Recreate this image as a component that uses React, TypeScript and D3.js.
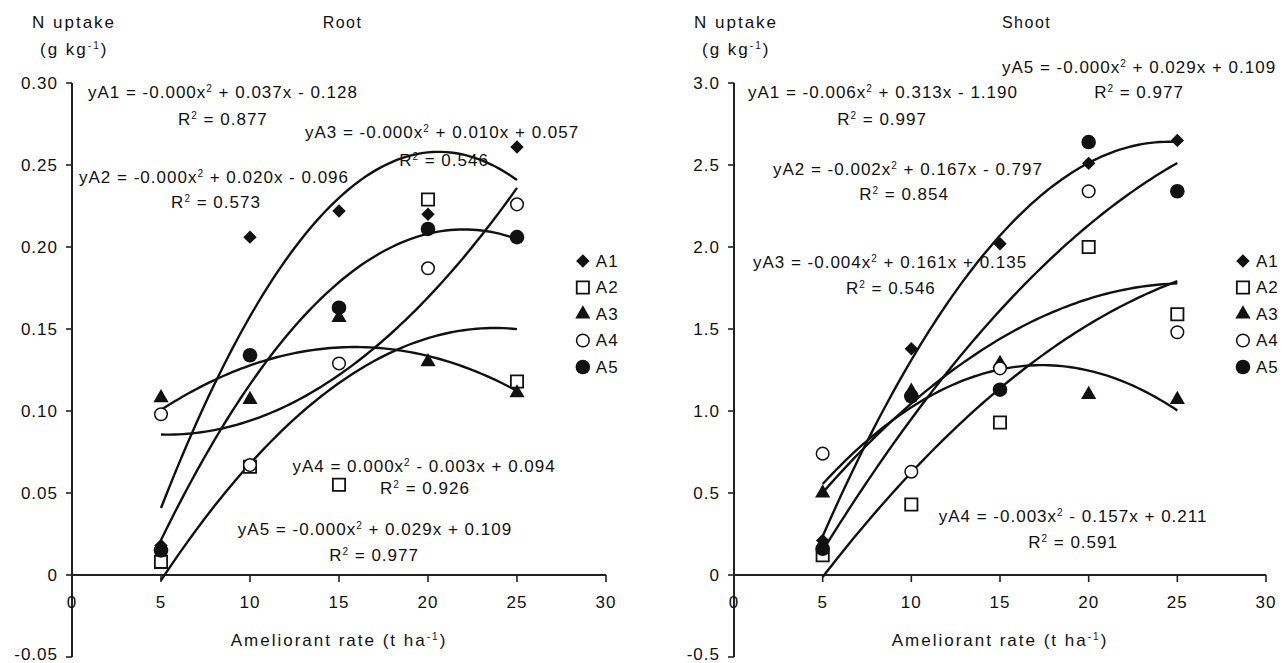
import React, { useEffect, useRef } from 'react';
import * as d3 from 'd3';

// ameliorant rates (t/ha)
const rates = [5, 10, 15, 20, 25];
const seriesNames = ['A1', 'A2', 'A3', 'A4', 'A5'];

// Root N uptake (g/kg)
const rootA1 = [0.018, 0.206, 0.222, 0.220, 0.261];
const rootA2 = [0.008, 0.066, 0.055, 0.229, 0.118];
const rootA3 = [0.108, 0.107, 0.157, 0.130, 0.111];
const rootA4 = [0.098, 0.067, 0.129, 0.187, 0.226];
const rootA5 = [0.015, 0.134, 0.163, 0.211, 0.206];

// Shoot N uptake (g/kg)
const shootA1 = [0.21, 1.38, 2.02, 2.51, 2.65];
const shootA2 = [0.12, 0.43, 0.93, 2.00, 1.59];
const shootA3 = [0.50, 1.12, 1.29, 1.10, 1.07];
const shootA4 = [0.74, 0.63, 1.26, 2.34, 1.48];
const shootA5 = [0.16, 1.09, 1.13, 2.64, 2.34];

const xTicks = [0, 5, 10, 15, 20, 25, 30];
const rootTicks = [0.30, 0.25, 0.20, 0.15, 0.10, 0.05, 0, -0.05];
const rootTickLabels = ['0.30', '0.25', '0.20', '0.15', '0.10', '0.05', '0', '-0.05'];
const shootTicks = [3.0, 2.5, 2.0, 1.5, 1.0, 0.5, 0, -0.5];
const shootTickLabels = ['3.0', '2.5', '2.0', '1.5', '1.0', '0.5', '0', '-0.5'];

const rootEquations = [
  'yA1 = -0.000x² + 0.037x - 0.128',
  'yA2 = -0.000x² + 0.020x - 0.096',
  'yA3 = -0.000x² + 0.010x + 0.057',
  'yA4 = 0.000x² - 0.003x + 0.094',
  'yA5 = -0.000x² + 0.029x + 0.109',
];
const rootR2 = ['R² = 0.877', 'R² = 0.573', 'R² = 0.546', 'R² = 0.926', 'R² = 0.977'];

const shootEquations = [
  'yA1 = -0.006x² + 0.313x - 1.190',
  'yA2 = -0.002x² + 0.167x - 0.797',
  'yA3 = -0.004x² + 0.161x + 0.135',
  'yA4 = -0.003x² - 0.157x + 0.211',
  'yA5 = -0.000x² + 0.029x + 0.109',
];
const shootR2 = ['R² = 0.997', 'R² = 0.854', 'R² = 0.546', 'R² = 0.591', 'R² = 0.977'];

// where the equation labels sit, in (rate, value) units
const rootEqAt = [[8.48, 0.2909], [7.98, 0.239], [20.79, 0.2665], [19.78, 0.0628], [17.02, 0.0244]];
const rootR2At = [[8.48, 0.2744], [8.09, 0.2238], [20.9, 0.2494], [19.83, 0.0494], [16.97, 0.0085]];
const shootEqAt = [[8.4, 2.909], [9.81, 2.439], [8.8, 1.872], [19.12, 0.323], [22.84, 3.061]];
const shootR2At = [[8.35, 2.744], [9.59, 2.287], [8.85, 1.713], [19.12, 0.165], [22.84, 2.909]];

const FONT = '"Liberation Sans", Arial, sans-serif';
const INK = '#111';

// least squares quadratic trend, returns [a, b, c] of a x^2 + b x + c
function quadFit(xs: number[], ys: number[]) {
  let s0 = 0, s1 = 0, s2 = 0, s3 = 0, s4 = 0, t0 = 0, t1 = 0, t2 = 0;
  xs.forEach((x, i) => {
    const y = ys[i];
    s0 += 1; s1 += x; s2 += x * x; s3 += x ** 3; s4 += x ** 4;
    t0 += y; t1 += x * y; t2 += x * x * y;
  });
  const M = [[s4, s3, s2, t2], [s3, s2, s1, t1], [s2, s1, s0, t0]];
  for (let i = 0; i < 3; i++) {
    for (let k = i + 1; k < 3; k++) {
      const f = M[k][i] / M[i][i];
      for (let j = i; j < 4; j++) M[k][j] -= f * M[i][j];
    }
  }
  const c = [0, 0, 0];
  for (let i = 2; i >= 0; i--) {
    let s = M[i][3];
    for (let j = i + 1; j < 3; j++) s -= M[i][j] * c[j];
    c[i] = s / M[i][i];
  }
  return c;
}

// text with small raised parts for ² and ⁻¹
function richText(g: any, x: number, y: number, str: string, anchor: string, spacing: number) {
  const t = g.append('text')
    .attr('x', x).attr('y', y)
    .attr('text-anchor', anchor)
    .attr('fill', INK)
    .style('letter-spacing', `${spacing}px`);
  let raised = false;
  str.split(/(²|⁻¹)/).forEach(p => {
    if (!p) return;
    if (p === '²' || p === '⁻¹') {
      t.append('tspan').attr('dy', -6).attr('font-size', 10).text(p === '²' ? '2' : '-1');
      raised = true;
    } else {
      const ts = t.append('tspan').text(p);
      if (raised) { ts.attr('dy', 6); raised = false; }
    }
  });
  return t;
}

function drawMarker(g: any, i: number, x: number, y: number) {
  if (i === 0) {
    g.append('path').attr('d', d3.symbol(d3.symbolSquare, 90)())
      .attr('transform', `translate(${x},${y}) rotate(45)`).attr('fill', INK);
  } else if (i === 1) {
    g.append('path').attr('d', d3.symbol(d3.symbolSquare, 150)())
      .attr('transform', `translate(${x},${y})`).attr('fill', '#fff')
      .attr('stroke', INK).attr('stroke-width', 1.8);
  } else if (i === 2) {
    g.append('path').attr('d', d3.symbol(d3.symbolTriangle, 100)())
      .attr('transform', `translate(${x},${y})`).attr('fill', INK);
  } else if (i === 3) {
    g.append('circle').attr('cx', x).attr('cy', y).attr('r', 6.3)
      .attr('fill', '#fff').attr('stroke', INK).attr('stroke-width', 1.5);
  } else {
    g.append('circle').attr('cx', x).attr('cy', y).attr('r', 7.3).attr('fill', INK);
  }
}

const panels = [
  {
    title: 'Root', titleAt: 15.2, left: 72, right: 606,
    yDomain: [-0.05, 0.30], yTicks: rootTicks, yTickLabels: rootTickLabels,
    series: [rootA1, rootA2, rootA3, rootA4, rootA5],
    equations: rootEquations, r2: rootR2, eqAt: rootEqAt, r2At: rootR2At,
  },
  {
    title: 'Shoot', titleAt: 16.5, left: 734, right: 1266,
    yDomain: [-0.5, 3.0], yTicks: shootTicks, yTickLabels: shootTickLabels,
    series: [shootA1, shootA2, shootA3, shootA4, shootA5],
    equations: shootEquations, r2: shootR2, eqAt: shootEqAt, r2At: shootR2At,
  },
];

const App = () => {
  const svgRef = useRef<SVGSVGElement>(null);

  useEffect(() => {
    const svg = d3.select(svgRef.current);
    svg.selectAll('*').remove();
    svg.append('rect').attr('width', 1283).attr('height', 663).attr('fill', '#fff');

    const top = 83, bottom = 657;

    panels.forEach(p => {
      const x = d3.scaleLinear().domain([0, 30]).range([p.left, p.right]);
      const y = d3.scaleLinear().domain(p.yDomain).range([bottom, top]);
      const g = svg.append('g').attr('font-family', FONT).attr('font-size', 17);

      // axes
      g.append('line').attr('x1', p.left).attr('x2', p.left).attr('y1', top).attr('y2', bottom)
        .attr('stroke', '#222').attr('stroke-width', 2);
      g.append('line').attr('x1', p.left).attr('x2', p.right).attr('y1', y(0)).attr('y2', y(0))
        .attr('stroke', '#222').attr('stroke-width', 2);

      p.yTicks.forEach((t, i) => {
        g.append('line').attr('x1', p.left - 6).attr('x2', p.left).attr('y1', y(t)).attr('y2', y(t))
          .attr('stroke', '#222').attr('stroke-width', 1.6);
        // lowest label is nudged up so it stays inside the picture
        const last = i === p.yTicks.length - 1;
        g.append('text').attr('x', p.left - 14).attr('y', y(t) - (last ? 3 : 0)).attr('dy', '0.33em')
          .attr('text-anchor', 'end').attr('fill', INK).style('letter-spacing', '1px')
          .text(p.yTickLabels[i]);
      });

      xTicks.forEach(t => {
        g.append('line').attr('x1', x(t)).attr('x2', x(t)).attr('y1', y(0)).attr('y2', y(0) + 7)
          .attr('stroke', '#222').attr('stroke-width', 1.6);
        g.append('text').attr('x', x(t)).attr('y', 608)
          .attr('text-anchor', 'middle').attr('fill', INK).style('letter-spacing', '1px')
          .text(t);
      });

      // titles
      richText(g, p.left - 40, 28, 'N uptake', 'start', 2);
      richText(g, p.left - 32, 55, '(g kg⁻¹)', 'start', 2);
      richText(g, x(p.titleAt), 28, p.title, 'middle', 1.5).attr('font-size', 16);
      richText(g, x(15), 646, 'Ameliorant rate (t ha⁻¹)', 'middle', 2);

      // quadratic trend curves
      const fine = d3.range(rates[0], rates[rates.length - 1] + 0.001, 0.25);
      const line = d3.line<number[]>().x(d => x(d[0])).y(d => y(d[1]));
      p.series.forEach(vals => {
        const [a, b, c] = quadFit(rates, vals);
        const pts = fine.map(r => [r, a * r * r + b * r + c]);
        g.append('path').attr('d', line(pts)).attr('fill', 'none')
          .attr('stroke', INK).attr('stroke-width', 2.4);
      });

      // data points
      p.series.forEach((vals, si) => {
        vals.forEach((v, k) => drawMarker(g, si, x(rates[k]), y(v)));
      });

      // equations
      p.equations.forEach((eq, i) => {
        richText(g, x(p.eqAt[i][0]), y(p.eqAt[i][1]), eq, 'middle', 1);
        richText(g, x(p.r2At[i][0]), y(p.r2At[i][1]), p.r2[i], 'middle', 1);
      });

      // legend
      seriesNames.forEach((name, i) => {
        const ly = 261 + i * 26.5;
        drawMarker(g, i, x(28.7), ly);
        g.append('text').attr('x', x(28.7) + 13).attr('y', ly).attr('dy', '0.35em')
          .attr('fill', INK).style('letter-spacing', '1px').text(name);
      });
    });
  }, []);

  return (
    <svg ref={svgRef} width={1283} height={663}
      style={{ position: 'absolute', left: 0, top: 0, display: 'block' }} />
  );
};

export default App;
